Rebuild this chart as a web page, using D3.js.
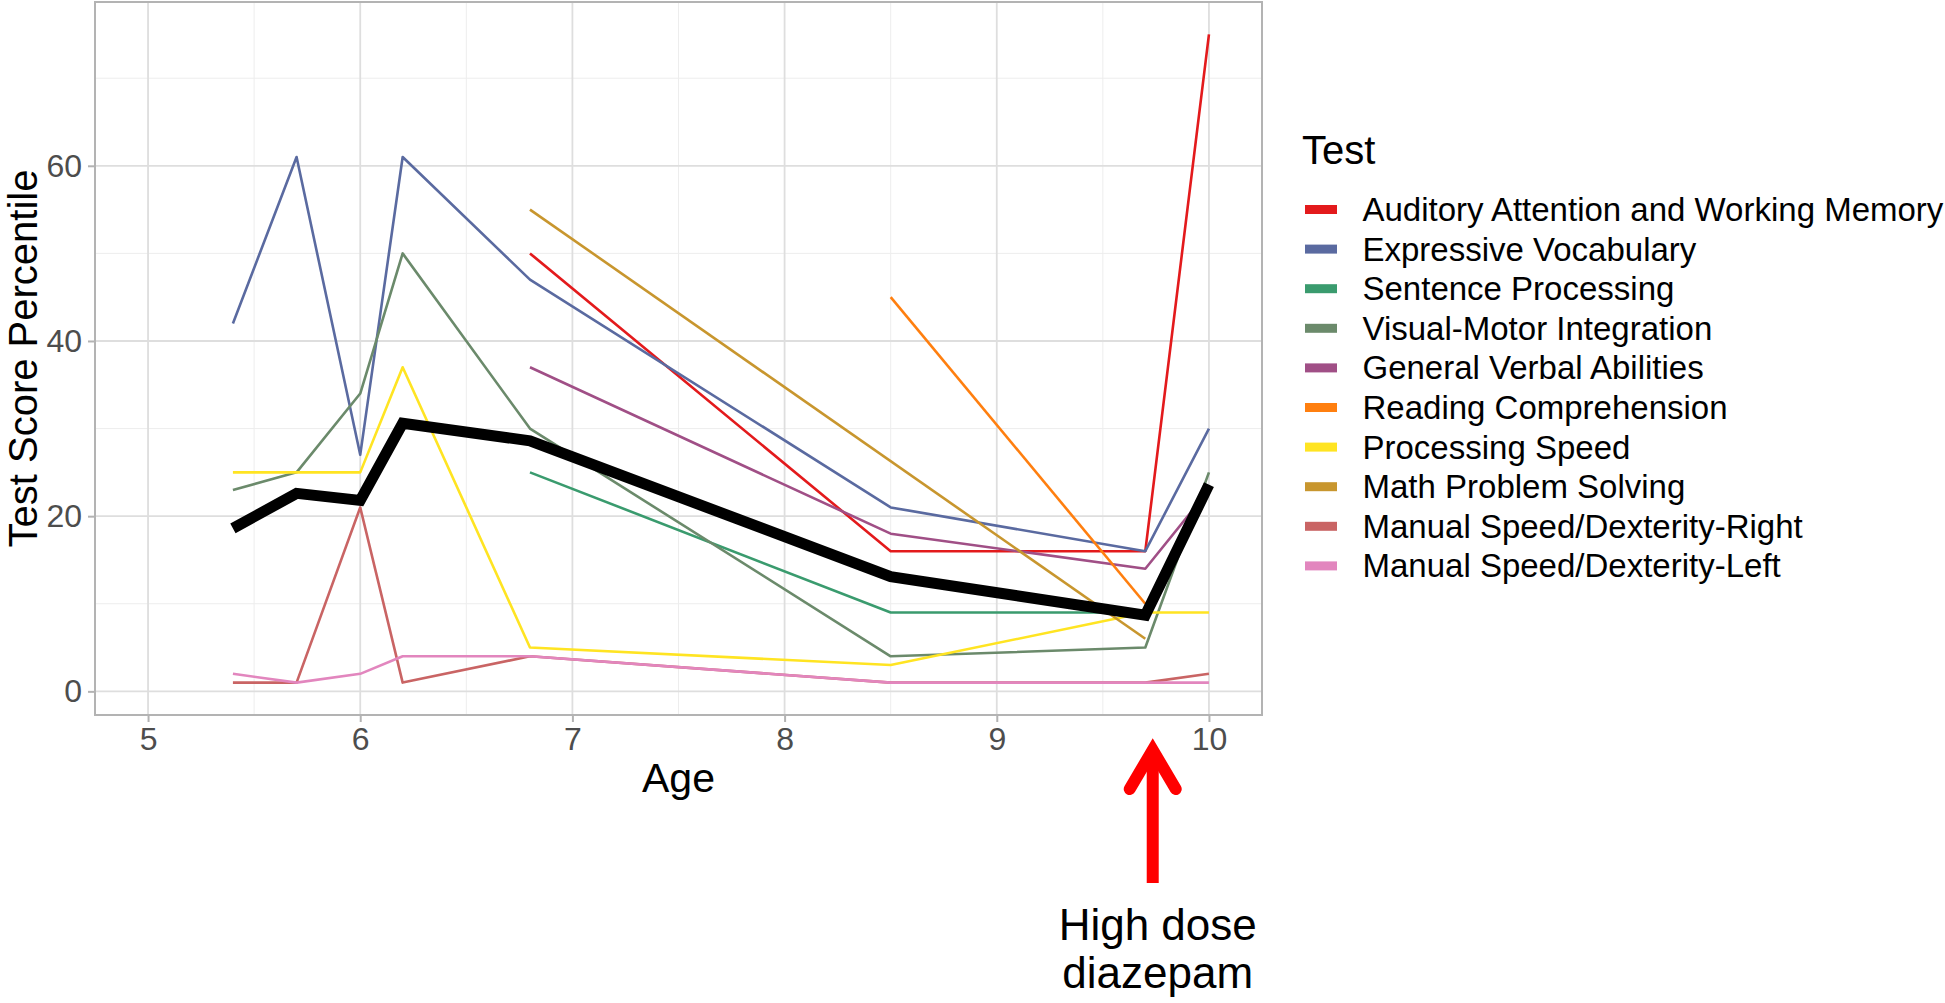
<!DOCTYPE html>
<html>
<head>
<meta charset="utf-8">
<script src="https://cdn.jsdelivr.net/npm/d3@7"></script>
<style>
  html, body { margin: 0; padding: 0; background: #ffffff; }
  svg { display: block; font-family: "Liberation Sans", Arial, sans-serif; }
</style>
</head>
<body>
<svg id="chart" width="1945" height="1003"></svg>
<script>
// ---------------- DATA ----------------
const ages = [5.4, 5.7, 6.0, 6.2, 6.8, 8.5, 9.7, 10.0];

const testNames = [
  "Auditory Attention and Working Memory",
  "Expressive Vocabulary",
  "Sentence Processing",
  "Visual-Motor Integration",
  "General Verbal Abilities",
  "Reading Comprehension",
  "Processing Speed",
  "Math Problem Solving",
  "Manual Speed/Dexterity-Right",
  "Manual Speed/Dexterity-Left"
];

const testColors = [
  "#E31A1C", "#5A6AA0", "#3A9B6E", "#6B8A6B", "#A04F86",
  "#FF7F0F", "#FFE422", "#C8962E", "#C96464", "#E286BE"
];

const auditoryAttention   = [null, null, null, null, 50, 16, 16, 75];
const expressiveVocab     = [42, 61, 27, 61, 47, 21, 16, 30];
const sentenceProcessing  = [null, null, null, null, 25, 9, 9, null];
const visualMotor         = [23, 25, 34, 50, 30, 4, 5, 25];
const generalVerbal       = [null, null, null, null, 37, 18, 14, 23];
const readingComp         = [null, null, null, null, null, 45, 10, null];
const processingSpeed     = [25, 25, 25, 37, 5, 3, 9, 9];
const mathProblem         = [null, null, null, null, 55, null, 6, null];
const manualRight         = [1, 1, 21, 1, 4, 1, 1, 2];
const manualLeft          = [2, 1, 2, 4, 4, 1, 1, 1];

const meanScore           = [18.6, 22.6, 21.8, 30.6, 28.6, 13.1, 8.7, 23.6];

const xTicks = [5, 6, 7, 8, 9, 10];
const xMinor = [5.5, 6.5, 7.5, 8.5, 9.5];
const yTicks = [0, 20, 40, 60];
const yMinor = [10, 30, 50, 70];

const seriesValues = [auditoryAttention, expressiveVocab, sentenceProcessing, visualMotor,
  generalVerbal, readingComp, processingSpeed, mathProblem, manualRight, manualLeft];

// ---------------- LAYOUT ----------------
const svg = d3.select("#chart");
const panel = { left: 95, right: 1262, top: 2, bottom: 715 };
const x = d3.scaleLinear().domain([4.75, 10.25]).range([panel.left, panel.right]);
const y = d3.scaleLinear().domain([-2.7, 78.7]).range([panel.bottom, panel.top]);

const FONT_TICK = 32, FONT_TITLE = 41;

// panel background
svg.append("rect")
  .attr("x", panel.left).attr("y", panel.top)
  .attr("width", panel.right - panel.left).attr("height", panel.bottom - panel.top)
  .attr("fill", "#ffffff");

// minor grid
const grid = svg.append("g");
grid.selectAll(".ymin").data(yMinor).join("line")
  .attr("x1", panel.left).attr("x2", panel.right)
  .attr("y1", d => y(d)).attr("y2", d => y(d))
  .attr("stroke", "#EDEDED").attr("stroke-width", 1);
grid.selectAll(".xmin").data(xMinor).join("line")
  .attr("y1", panel.top).attr("y2", panel.bottom)
  .attr("x1", d => x(d)).attr("x2", d => x(d))
  .attr("stroke", "#EDEDED").attr("stroke-width", 1);
// major grid
grid.selectAll(".ymaj").data(yTicks).join("line")
  .attr("x1", panel.left).attr("x2", panel.right)
  .attr("y1", d => y(d)).attr("y2", d => y(d))
  .attr("stroke", "#DEDEDE").attr("stroke-width", 1.8);
grid.selectAll(".xmaj").data(xTicks).join("line")
  .attr("y1", panel.top).attr("y2", panel.bottom)
  .attr("x1", d => x(d)).attr("x2", d => x(d))
  .attr("stroke", "#DEDEDE").attr("stroke-width", 1.8);

// series lines
const line = d3.line().x(d => x(d.age)).y(d => y(d.value));
const linesG = svg.append("g").attr("fill", "none").attr("stroke-linejoin", "round");
seriesValues.forEach((vals, i) => {
  const pts = ages.map((a, j) => ({ age: a, value: vals[j] })).filter(d => d.value !== null);
  linesG.append("path")
    .attr("d", line(pts))
    .attr("stroke", testColors[i])
    .attr("stroke-width", 2.6);
});
// mean line
linesG.append("path")
  .attr("d", line(ages.map((a, j) => ({ age: a, value: meanScore[j] }))))
  .attr("stroke", "#000000")
  .attr("stroke-width", 11)
  .attr("stroke-linejoin", "miter");

// panel border
svg.append("rect")
  .attr("x", panel.left).attr("y", panel.top)
  .attr("width", panel.right - panel.left).attr("height", panel.bottom - panel.top)
  .attr("fill", "none").attr("stroke", "#B3B3B3").attr("stroke-width", 2);

// axes
const xAxis = d3.axisBottom(x).tickValues(xTicks).tickSize(7).tickPadding(5).tickFormat(d3.format("d"));
const xg = svg.append("g").attr("transform", `translate(0,${panel.bottom})`).call(xAxis);
xg.select(".domain").remove();
xg.selectAll(".tick line").attr("stroke", "#B3B3B3").attr("stroke-width", 2);
xg.selectAll(".tick text").attr("fill", "#4D4D4D")
  .style("font-size", FONT_TICK + "px").style("font-family", "'Liberation Sans', Arial, sans-serif");

const yAxis = d3.axisLeft(y).tickValues(yTicks).tickSize(7).tickPadding(6).tickFormat(d3.format("d"));
const yg = svg.append("g").attr("transform", `translate(${panel.left},0)`).call(yAxis);
yg.select(".domain").remove();
yg.selectAll(".tick line").attr("stroke", "#B3B3B3").attr("stroke-width", 2);
yg.selectAll(".tick text").attr("fill", "#4D4D4D")
  .style("font-size", FONT_TICK + "px").style("font-family", "'Liberation Sans', Arial, sans-serif");

// axis titles
svg.append("text")
  .attr("x", (panel.left + panel.right) / 2).attr("y", 792)
  .attr("text-anchor", "middle").attr("font-size", FONT_TITLE).attr("fill", "#000")
  .text("Age");
svg.append("text")
  .attr("transform", `translate(37,${(panel.top + panel.bottom) / 2}) rotate(-90)`)
  .attr("text-anchor", "middle").attr("font-size", 40).attr("fill", "#000")
  .text("Test Score Percentile");

// legend
const legend = svg.append("g");
legend.append("text").attr("x", 1302).attr("y", 164)
  .attr("font-size", 40).attr("fill", "#000").text("Test");
const items = legend.selectAll(".item").data(testNames).join("g")
  .attr("transform", (d, i) => `translate(0,${209.5 + i * 39.6})`);
items.append("rect").attr("x", 1305).attr("y", -4.5).attr("width", 32).attr("height", 9)
  .attr("fill", (d, i) => testColors[i]);
items.append("text").attr("x", 1362.5).attr("y", 0).attr("dy", "0.35em")
  .attr("font-size", 33).attr("fill", "#000").text(d => d);

// annotation arrow
const ax = x(9.735);
const ann = svg.append("g");
ann.append("line").attr("x1", ax).attr("x2", ax).attr("y1", 883).attr("y2", 756)
  .attr("stroke", "#FF0000").attr("stroke-width", 12);
ann.append("path")
  .attr("d", `M${ax - 23},${789} L${ax},${750} L${ax + 23},${789}`)
  .attr("fill", "none").attr("stroke", "#FF0000").attr("stroke-width", 12)
  .attr("stroke-linecap", "round").attr("stroke-linejoin", "miter");
ann.append("text").attr("x", ax + 5).attr("y", 940).attr("text-anchor", "middle")
  .attr("font-size", 44).attr("fill", "#000").text("High dose");
ann.append("text").attr("x", ax + 5).attr("y", 988).attr("text-anchor", "middle")
  .attr("font-size", 44).attr("fill", "#000").text("diazepam");
</script>
</body>
</html>
